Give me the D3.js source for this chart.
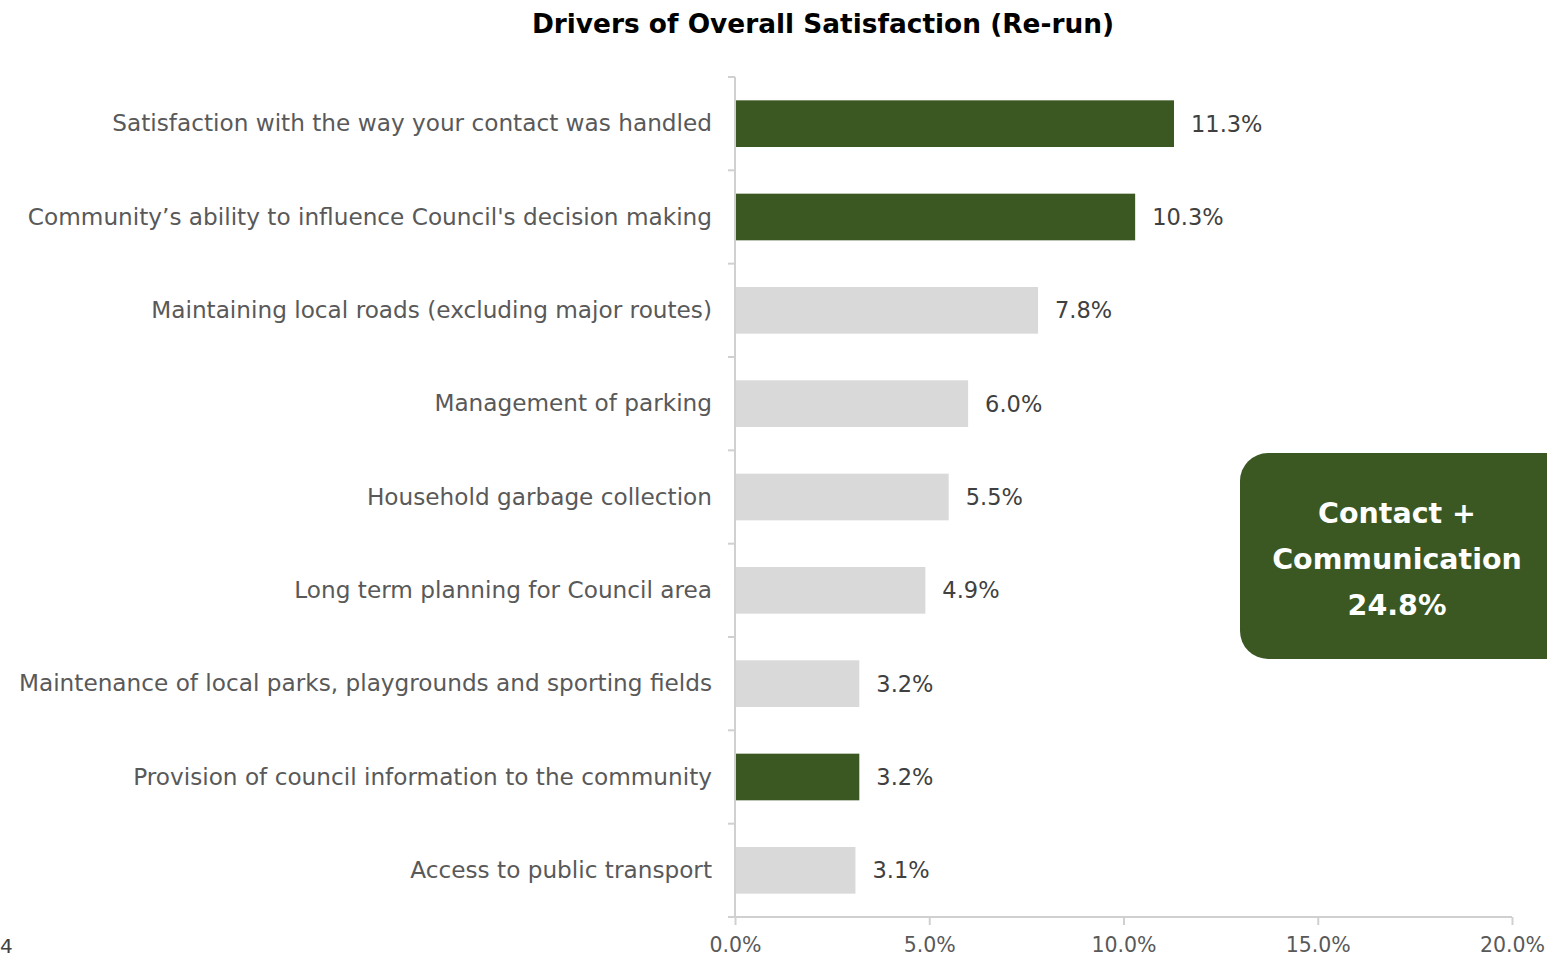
<!DOCTYPE html>
<html>
<head>
<meta charset="utf-8">
<script src="https://cdn.jsdelivr.net/npm/d3@7"></script>
<style>
  html, body { margin: 0; padding: 0; background: #fff; }
  svg { display: block; font-family: "DejaVu Sans", sans-serif; }
</style>
</head>
<body>
<svg id="chart" width="1547" height="958"></svg>
<script>
// Driver categories, top to bottom
const categories = [
  "Satisfaction with the way your contact was handled",
  "Community\u2019s ability to influence Council's decision making",
  "Maintaining local roads (excluding major routes)",
  "Management of parking",
  "Household garbage collection",
  "Long term planning for Council area",
  "Maintenance of local parks, playgrounds and sporting fields",
  "Provision of council information to the community",
  "Access to public transport"
];
// Share of overall satisfaction explained (%)
const values = [11.3, 10.3, 7.8, 6.0, 5.5, 4.9, 3.2, 3.2, 3.1];
// Contact + communication drivers are highlighted
const highlighted = [true, true, false, false, false, false, false, true, false];
const xTicks = [0, 5, 10, 15, 20];
const calloutLines = ["Contact +", "Communication", "24.8%"];

const svg = d3.select("#chart");
const green = "#3b5823";
const grey = "#d9d9d9";
const axisColor = "#d0d0d0";
const labelFont = "'DejaVu Sans', sans-serif";

const x = d3.scaleLinear().domain([0, 20]).range([735, 1512]);
const y = d3.scaleBand().domain(categories).range([77, 917]).paddingInner(0.5).paddingOuter(0.25);

// Title
svg.append("text")
  .attr("x", 823).attr("y", 33)
  .attr("text-anchor", "middle")
  .attr("font-size", 26.4).attr("font-weight", "bold").attr("fill", "#000")
  .text("Drivers of Overall Satisfaction (Re-run)");

// Bars
svg.append("g").selectAll("rect")
  .data(values)
  .join("rect")
  .attr("x", x(0))
  .attr("y", (d, i) => y(categories[i]))
  .attr("width", d => x(d) - x(0))
  .attr("height", y.bandwidth())
  .attr("fill", (d, i) => highlighted[i] ? green : grey);

// Value labels
svg.append("g").selectAll("text")
  .data(values)
  .join("text")
  .attr("x", d => x(d) + 17)
  .attr("y", (d, i) => y(categories[i]) + y.bandwidth() / 2)
  .attr("dy", "0.36em")
  .attr("font-size", 22.5).attr("fill", "#404040")
  .text(d => d.toFixed(1) + "%");

// Y axis with tick marks between categories
const yAxisG = svg.append("g");
yAxisG.append("line")
  .attr("x1", x(0)).attr("x2", x(0))
  .attr("y1", 77).attr("y2", 917)
  .attr("stroke", axisColor).attr("stroke-width", 2);
const step = (917 - 77) / categories.length;
yAxisG.selectAll("line.tick")
  .data(d3.range(categories.length + 1))
  .join("line").attr("class", "tick")
  .attr("x1", x(0) - 7).attr("x2", x(0))
  .attr("y1", d => 77 + d * step).attr("y2", d => 77 + d * step)
  .attr("stroke", axisColor).attr("stroke-width", 2);
yAxisG.selectAll("text")
  .data(categories)
  .join("text")
  .attr("x", 712)
  .attr("y", d => y(d) + y.bandwidth() / 2)
  .attr("dy", "0.33em")
  .attr("font-size", 23.2).attr("text-anchor", "end")
  .attr("fill", "#595959")
  .text(d => d);

// X axis
const xAxis = d3.axisBottom(x)
  .tickValues(xTicks)
  .tickSize(8)
  .tickPadding(12)
  .tickFormat(d => d.toFixed(1) + "%");
const xg = svg.append("g").attr("transform", "translate(0,917)").call(xAxis);
xg.select(".domain").attr("stroke", axisColor).attr("stroke-width", 2).attr("d", `M${x(0)},0H${x(20)}`);
xg.selectAll(".tick line").attr("stroke", axisColor).attr("stroke-width", 2);
xg.selectAll(".tick text").attr("font-size", 20.5).attr("fill", "#595959")
  .attr("font-family", labelFont);

// Page number
svg.append("text")
  .attr("x", 0).attr("y", 953)
  .attr("font-size", 20).attr("fill", "#404040")
  .text("4");

// Callout box
const cg = svg.append("g");
cg.append("rect")
  .attr("x", 1240).attr("y", 453)
  .attr("width", 340).attr("height", 206)
  .attr("rx", 28).attr("ry", 28)
  .attr("fill", green);
cg.selectAll("text")
  .data(calloutLines)
  .join("text")
  .attr("x", 1397)
  .attr("y", (d, i) => 513 + i * 46)
  .attr("dy", "0.36em")
  .attr("text-anchor", "middle")
  .attr("font-size", 28.5).attr("font-weight", "bold").attr("fill", "#fff")
  .text(d => d);
</script>
</body>
</html>
